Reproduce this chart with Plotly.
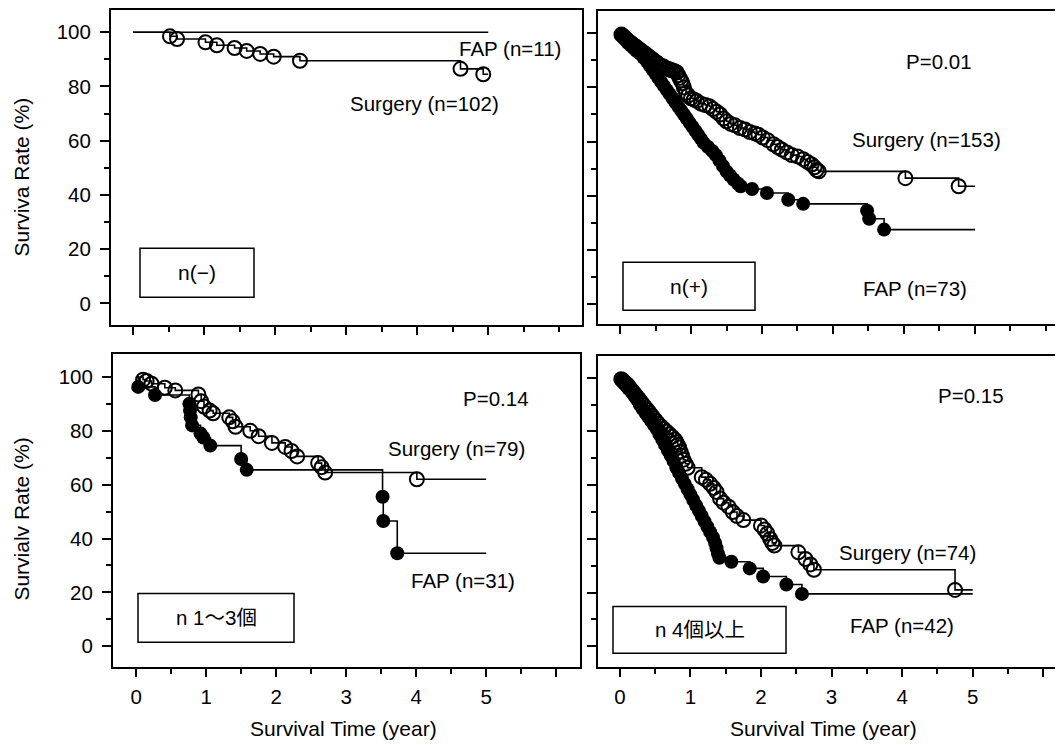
import plotly.graph_objects as go

# The page body has an 8px default margin, so the figure is drawn 8px smaller and
# all reference pixel positions are shifted by that offset.
OFF = 8
W, H = 1063 - OFF, 745 - OFF
FONT = "Liberation Sans, Arial, Helvetica, Noto Sans CJK JP, sans-serif"

# ---------------- data ----------------
X_TICKS = [0, 1, 2, 3, 4, 5, 6]
Y_TICKS = [0, 20, 40, 60, 80, 100]
FOLLOW_END = 5.0  # curves are drawn to 5 years

# top-left : n(-)
TL_SURG_T = [0.52, 0.62, 1.02, 1.18, 1.43, 1.60, 1.79, 1.98, 2.35, 4.61, 4.93]
TL_SURG_S = [98.5, 97.5, 96.3, 95.2, 94.2, 93.1, 92.0, 91.0, 89.5, 86.5, 84.5]
TL_FAP_T = []
TL_FAP_S = []

# top-right : n(+)
TR_SURG_T = [0.02, 0.04, 0.06, 0.08, 0.10, 0.12, 0.15, 0.17, 0.20, 0.22, 0.25, 0.27,
             0.30, 0.32, 0.35, 0.37, 0.40, 0.42, 0.45, 0.47, 0.50, 0.52, 0.55, 0.57,
             0.60, 0.62, 0.65, 0.68, 0.71, 0.74, 0.77, 0.80, 0.82, 0.84, 0.86, 0.88,
             0.90, 0.93, 0.96, 1.00, 1.04, 1.08, 1.14, 1.20, 1.26, 1.31, 1.36, 1.41,
             1.46, 1.50, 1.56, 1.62, 1.69, 1.76, 1.83, 1.90, 1.95, 2.01, 2.08, 2.16,
             2.22, 2.28, 2.35, 2.42, 2.50, 2.58, 2.64, 2.70, 2.74, 2.77, 2.80, 4.02, 4.77]
TR_SURG_S = [99.5, 99.0, 98.5, 98.0, 97.5, 97.0, 96.5, 96.0, 95.5, 95.0, 94.5, 94.0,
             93.5, 93.0, 92.5, 92.0, 91.5, 91.0, 90.5, 90.0, 89.5, 89.0, 88.5, 88.0,
             87.8, 87.5, 87.0, 86.8, 86.5, 86.2, 86.0, 85.5, 84.5, 83.5, 82.5, 81.5,
             80.0, 78.0, 77.0, 76.0, 75.5, 75.0, 74.0, 73.5, 73.0, 72.0, 71.0, 70.0,
             68.5, 67.5, 66.5, 66.0, 65.0, 64.5, 63.5, 63.0, 62.5, 61.5, 60.5, 59.0,
             58.0, 57.0, 56.0, 55.0, 54.5, 53.5, 52.5, 51.5, 50.5, 49.5, 49.0, 46.5, 43.5]
TR_FAP_T = [0.02, 0.05, 0.08, 0.11, 0.15, 0.19, 0.23, 0.28, 0.33, 0.38, 0.42, 0.46,
            0.50, 0.54, 0.58, 0.62, 0.66, 0.70, 0.74, 0.78, 0.82, 0.86, 0.90, 0.94,
            0.98, 1.02, 1.06, 1.10, 1.14, 1.18, 1.24, 1.30, 1.35, 1.40, 1.45, 1.50,
            1.55, 1.60, 1.66, 1.70, 1.86, 2.07, 2.37, 2.58, 3.48, 3.51, 3.72]
TR_FAP_S = [99.5, 98.5, 97.5, 96.5, 95.5, 94.5, 93.5, 92.5, 91.0, 89.5, 88.0, 86.5,
            85.0, 83.5, 82.0, 80.5, 79.0, 77.5, 76.0, 74.5, 73.0, 71.5, 70.0, 68.5,
            67.0, 65.5, 64.0, 62.5, 61.0, 59.5, 58.0, 56.5, 55.0, 53.0, 51.0, 49.0,
            47.5, 46.0, 44.5, 43.5, 42.5, 41.0, 38.5, 37.0, 34.5, 31.5, 27.5]

# bottom-left : n 1~3
BL_SURG_T = [0.10, 0.15, 0.22, 0.41, 0.56, 0.89, 0.93, 0.97, 1.05, 1.10, 1.33, 1.38,
             1.42, 1.63, 1.75, 1.94, 2.13, 2.22, 2.30, 2.60, 2.65, 2.70, 4.01]
BL_SURG_S = [99.0, 98.5, 97.5, 96.0, 95.0, 93.5, 91.0, 89.0, 87.5, 86.5, 85.0, 83.5,
             81.5, 80.0, 78.0, 75.5, 74.0, 72.5, 70.5, 68.0, 66.5, 64.5, 62.0]
BL_FAP_T = [0.03, 0.27, 0.76, 0.77, 0.78, 0.80, 0.92, 0.96, 1.06, 1.50, 1.58, 3.52, 3.53, 3.73]
BL_FAP_S = [96.3, 93.3, 90.0, 87.5, 85.0, 82.0, 79.0, 77.5, 74.5, 69.5, 65.5, 55.5, 46.5, 34.5]

# bottom-right : n >= 4
BR_SURG_T = [0.02, 0.04, 0.06, 0.08, 0.10, 0.12, 0.15, 0.18, 0.21, 0.24, 0.27, 0.30,
             0.33, 0.36, 0.39, 0.42, 0.45, 0.48, 0.51, 0.54, 0.58, 0.62, 0.66, 0.70,
             0.74, 0.78, 0.80, 0.82, 0.84, 0.86, 0.88, 0.90, 0.93, 0.96,
             1.16, 1.22, 1.28, 1.33, 1.37, 1.42, 1.47, 1.54, 1.60, 1.66, 1.75,
             2.00, 2.05, 2.09, 2.13, 2.16, 2.19, 2.53, 2.63, 2.70, 2.75, 4.75]
BR_SURG_S = [99.5, 99.0, 98.5, 98.0, 97.5, 97.0, 96.0, 95.0, 94.0, 93.0, 92.0, 91.0,
             90.0, 89.0, 88.0, 87.0, 86.0, 85.0, 84.0, 83.0, 82.0, 81.0, 80.0, 79.0,
             78.0, 77.0, 76.0, 75.0, 74.0, 72.5, 71.0, 69.5, 68.0, 66.5,
             63.0, 62.0, 60.5, 59.0, 57.5, 55.0, 53.5, 52.0, 50.0, 48.5, 47.0,
             45.0, 43.5, 42.0, 40.0, 38.5, 37.5, 35.0, 32.5, 30.5, 28.5, 21.0]
BR_FAP_T = [0.03, 0.06, 0.09, 0.12, 0.16, 0.20, 0.24, 0.28, 0.32, 0.36, 0.40, 0.44,
            0.48, 0.52, 0.56, 0.60, 0.64, 0.68, 0.72, 0.76, 0.80, 0.84, 0.88, 0.92,
            0.96, 1.00, 1.04, 1.08, 1.12, 1.16, 1.20, 1.24, 1.28, 1.32, 1.35, 1.37,
            1.39, 1.41, 1.58, 1.84, 2.03, 2.36, 2.58]
BR_FAP_S = [99.0, 98.0, 97.0, 96.0, 95.0, 93.5, 92.0, 90.0, 88.5, 87.0, 85.5, 84.0,
            82.5, 81.0, 79.0, 77.0, 75.0, 73.0, 71.0, 69.0, 66.5, 64.5, 62.5, 60.5,
            58.5, 56.5, 54.5, 52.5, 50.5, 48.5, 46.5, 44.5, 42.5, 40.5, 38.5, 36.5,
            34.5, 33.0, 31.5, 29.0, 26.0, 23.0, 19.5]

PANEL_TAGS = ["n(−)", "n(+)", "n 1〜3個", "n 4個以上"]
P_VALUES = [None, "P=0.01", "P=0.14", "P=0.15"]
SURG_LABELS = ["Surgery (n=102)", "Surgery (n=153)", "Surgery (n=79)", "Surgery (n=74)"]
FAP_LABELS = ["FAP (n=11)", "FAP (n=73)", "FAP (n=31)", "FAP (n=42)"]
Y_TITLES = ["Surviva Rate (%)", "Survialv Rate (%)"]
X_TITLE = "Survival Time (year)"

DATA = [
    (TL_SURG_T, TL_SURG_S, TL_FAP_T, TL_FAP_S),
    (TR_SURG_T, TR_SURG_S, TR_FAP_T, TR_FAP_S),
    (BL_SURG_T, BL_SURG_S, BL_FAP_T, BL_FAP_S),
    (BR_SURG_T, BR_SURG_S, BR_FAP_T, BR_FAP_S),
]

# ---------------- layout geometry (reference pixels) ----------------
PANELS = [
    dict(dx=(111, 582), dy=(7, 324), xr=(-0.31, 6.32), yr=(-8.0, 108.2), xl=False, yl=True, mirror_y=True),
    dict(dx=(598, 1063), dy=(9, 323), xr=(-0.31, 6.24), yr=(-7.4, 108.2), xl=False, yl=False, mirror_y=False),
    dict(dx=(113, 580), dy=(353, 667), xr=(-0.33, 6.34), yr=(-7.8, 108.5), xl=True, yl=True, mirror_y=True),
    dict(dx=(598, 1063), dy=(355, 667), xr=(-0.31, 6.28), yr=(-7.8, 108.1), xl=True, yl=False, mirror_y=False),
]

def px(x):
    return min(1.0, max(0.0, (x - OFF) / W))

def py(y):
    return min(1.0, max(0.0, 1 - (y - OFF) / H))

fig = go.Figure()
layout = dict(width=W, height=H, margin=dict(l=0, r=0, t=0, b=0),
              paper_bgcolor="white", plot_bgcolor="white", showlegend=False,
              font=dict(family=FONT, size=20, color="black"))

for i, p in enumerate(PANELS):
    n = "" if i == 0 else str(i + 1)
    xa, ya = "xaxis" + n, "yaxis" + n
    layout[xa] = dict(
        domain=[px(p["dx"][0]), px(p["dx"][1])], range=list(p["xr"]), anchor="y" + n,
        showgrid=False, zeroline=False, showline=True, linecolor="black", linewidth=2,
        mirror=True, ticks="outside", tickmode="array", tickvals=X_TICKS,
        ticktext=[str(v) for v in X_TICKS[:-1]] + [""],
        ticklen=8, tickwidth=1.5, tickcolor="black",
        minor=dict(dtick=0.5, tick0=0, ticks="outside", ticklen=5, tickwidth=1.5,
                   tickcolor="black", showgrid=False),
        showticklabels=p["xl"], tickfont=dict(size=20.5), ticklabelstandoff=2,
        fixedrange=True)
    layout[ya] = dict(
        domain=[py(p["dy"][1]), py(p["dy"][0])], range=list(p["yr"]), anchor="x" + n,
        showgrid=False, zeroline=False, showline=True, linecolor="black", linewidth=2,
        mirror=p["mirror_y"], ticks="outside", tickmode="array", tickvals=Y_TICKS,
        ticklen=9, tickwidth=1.5, tickcolor="black",
        minor=dict(dtick=10, tick0=0, ticks="outside", ticklen=5, tickwidth=1.5,
                   tickcolor="black", showgrid=False),
        showticklabels=p["yl"], tickfont=dict(size=20.5), ticklabelstandoff=5,
        fixedrange=True)

    st, ss, ft, fs = DATA[i]
    xr_, yr_ = "x" + n, "y" + n
    for t, s in ((st, ss), (ft, fs)):
        lx = [0] + list(t) + [FOLLOW_END]
        ly = [100] + list(s) + [(s[-1] if s else 100)]
        fig.add_trace(go.Scatter(x=lx, y=ly, mode="lines", line=dict(color="black", width=1.6, shape="hv"),
                                 xaxis=xr_, yaxis=yr_, hoverinfo="skip"))
    if ft:
        fig.add_trace(go.Scatter(x=ft, y=fs, mode="markers",
                                 marker=dict(symbol="circle", size=14, color="black"),
                                 xaxis=xr_, yaxis=yr_))
    if st:
        fig.add_trace(go.Scatter(x=st, y=ss, mode="markers",
                                 marker=dict(symbol="circle-open", size=14, color="black",
                                             line=dict(width=2, color="black")),
                                 xaxis=xr_, yaxis=yr_))

# ---------------- texts ----------------
ann = []
def text(x, y, s, size=20.5, angle=0):
    ann.append(dict(x=px(x), y=py(y), xref="paper", yref="paper", text=s, showarrow=False,
                    xanchor="center", yanchor="middle", textangle=angle,
                    font=dict(size=size, family=FONT, color="black")))

# label positions (reference pixel centres)
SURG_POS = [(424, 102), (926, 138), (456, 448), (907, 552)]
FAP_POS = [(510, 47), (915, 287), (463, 580), (902, 625)]
P_POS = [None, (939, 60), (496, 398), (971, 395)]
BOX = [(140, 247, 254, 296), (623, 261, 755, 309), (138, 593, 294, 642), (613, 606, 786, 653)]

for i in range(4):
    text(*SURG_POS[i], SURG_LABELS[i])
    text(*FAP_POS[i], FAP_LABELS[i])
    if P_VALUES[i]:
        text(*P_POS[i], P_VALUES[i])
    x0, y0, x1, y1 = BOX[i]
    layout.setdefault("shapes", []).append(dict(
        type="rect", xref="paper", yref="paper", x0=px(x0), x1=px(x1), y0=py(y1), y1=py(y0),
        line=dict(color="black", width=1.5), fillcolor="white", layer="above"))
    text((x0 + x1) / 2, (y0 + y1) / 2, PANEL_TAGS[i], size=21 if i < 2 else 20.5)

text(22, 176, Y_TITLES[0], size=21, angle=-90)
text(22, 519, Y_TITLES[1], size=21, angle=-90)
text(343, 728, X_TITLE, size=21)
text(823, 728, X_TITLE, size=21)

layout["annotations"] = ann
fig.update_layout(**layout)
fig.write_html("out.html")
